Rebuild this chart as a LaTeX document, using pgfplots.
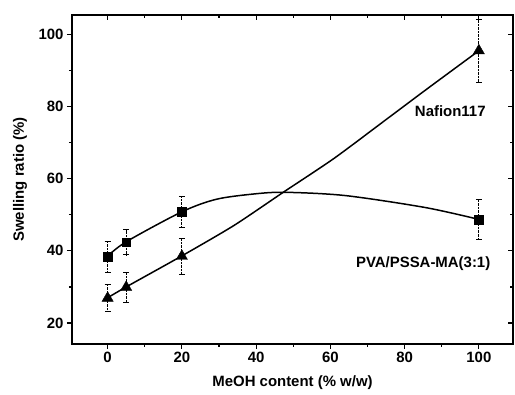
\documentclass[border=0pt]{standalone}
\usepackage{pgfplots}
\pgfplotsset{compat=1.18}
\usepackage{fontspec}
\setmainfont{Liberation Sans}
\begin{document}
\begin{tikzpicture}
\pgfplotsset{
  common/.style={
    scale only axis, width=441bp, height=329bp,
    xmin=-9.6, xmax=109.2, ymin=14.2, ymax=105.3,
    xtick={0,20,...,100}, ytick={20,40,...,100},
    minor x tick num=1, minor y tick num=1,
    major tick length=5bp, minor tick length=3bp,
    tick style={line width=1.2pt, black},
    axis line style={line width=1.6pt},
    /pgf/number format/assume math mode=true,
    tick label style={font=\bfseries\fontsize{15}{15}\selectfont},
    label style={font=\bfseries\fontsize{15}{15}\selectfont},
  }
}
\begin{axis}[common, xtick pos=top, ytick pos=right, tick align=inside,
  xticklabels={}, yticklabels={}]
\end{axis}
\begin{axis}[common, xtick pos=bottom, ytick pos=left, tick align=outside, clip=false,
  xlabel={MeOH content (\% w/w)}, ylabel={Swelling ratio (\%)},
  xlabel style={at={(axis description cs:0.5,-0.118)}, anchor=center},
  ylabel style={at={(axis description cs:-0.118,0.5)}, anchor=center},
  error bars/error bar style={densely dotted, line width=1pt, black},
  error bars/error mark options={rotate=90, mark size=3pt, solid, line width=1pt, black}]
% fitted curves
\addplot[smooth, tension=0.5, line width=1.5pt, black] coordinates {
(0,38.5) (5,42.5) (20,50.8) (29.4,54.3) (40,55.8) (48,56.2) (64,55.3) (85.5,52) (100,48.7)};
\addplot[smooth, tension=0.4, line width=1.5pt, black] coordinates {
(0,27) (5,30) (20,38.6) (34,47) (47.3,56.2) (61,65.6) (75.6,76.8) (86.4,85.1) (100,95.4)};
% PVA/PSSA-MA
\addplot[only marks, mark=square*, mark size=4.2pt, black,
  error bars/.cd, y dir=both, y explicit] coordinates {
(0,38.4) +- (0,4.3)
(5,42.4) +- (0,3.5)
(20,50.8) +- (0,4.3)
(100,48.6) +- (0,5.5)};
% Nafion117
\addplot[only marks, mark=triangle*, mark size=6.5pt, black,
  error bars/.cd, y dir=both, y explicit] coordinates {
(0,26.9) +- (0,3.8)
(5,29.9) +- (0,4.2)
(20,38.5) +- (0,5)
(100,95.4) +- (0,8.7)};
\node[font=\bfseries\fontsize{15}{15}\selectfont] at (axis cs:92.3,78.7) {Nafion117};
\node[font=\bfseries\fontsize{15}{15}\selectfont] at (axis cs:85,36.4) {PVA/PSSA-MA(3:1)};
\end{axis}
\pgfresetboundingbox
\path (current axis.south west) ++(-72bp,-51bp) coordinate (bl);
\path (current axis.north east) ++(2bp,15bp) coordinate (tr);
\path[use as bounding box] (bl) rectangle (tr);
\end{tikzpicture}
\end{document}
